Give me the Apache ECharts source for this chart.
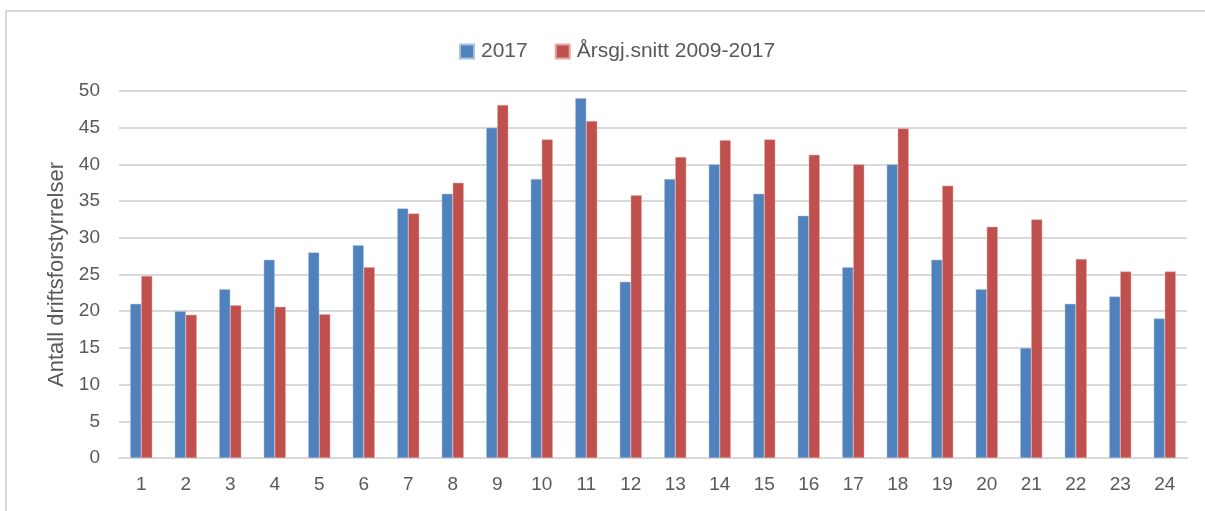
<!DOCTYPE html>
<html>
<head>
<meta charset="utf-8">
<script src="https://cdn.jsdelivr.net/npm/echarts@6/dist/echarts.min.js"></script>
<style>
  html, body { margin: 0; padding: 0; background: #fff; }
  #frame { position: absolute; left: 5px; top: 10px; width: 1200px; height: 520px;
           border-top: 2px solid #d9d9d9; border-left: 2px solid #d9d9d9; box-sizing: border-box; }
  #chart { position: absolute; left: 0; top: 0; width: 1205px; height: 511px; }
</style>
</head>
<body>
<div id="frame"></div>
<div id="chart"></div>
<script>
  // kategorier (1-24) og verdier lest av figuren
  var categories = ['1','2','3','4','5','6','7','8','9','10','11','12','13','14','15','16','17','18','19','20','21','22','23','24'];
  var values2017 = [21, 20, 23, 27, 28, 29, 34, 36, 45, 38, 49, 24, 38, 40, 36, 33, 26, 40, 27, 23, 15, 21, 22, 19];
  var snitt = [24.8, 19.5, 20.8, 20.6, 19.6, 26.0, 33.3, 37.5, 48.1, 43.4, 45.9, 35.8, 41.0, 43.3, 43.4, 41.3, 40.0, 44.9, 37.1, 31.5, 32.5, 27.1, 25.4, 25.4];
  var seriesNames = ['2017', 'Årsgj.snitt 2009-2017'];

  var chart = echarts.init(document.getElementById('chart'));
  var font = '"Liberation Sans", Arial, sans-serif';

  chart.setOption({
    animation: false,
    textStyle: { fontFamily: font },
    color: ['#4f81bd', '#c0504d'],
    legend: {
      top: 36,
      left: 454,
      itemWidth: 14,
      itemHeight: 14,
      itemGap: 27,
      icon: 'rect',
      data: seriesNames,
      textStyle: { fontSize: 21, color: '#595959', fontFamily: font, padding: [0, 0, 0, 2] }
    },
    grid: { left: 119, right: 18, top: 91, bottom: 53 },
    xAxis: {
      type: 'category',
      data: categories,
      axisLine: { lineStyle: { color: '#d9d9d9', width: 2 } },
      axisTick: { show: false },
      axisLabel: { fontSize: 19, color: '#595959', margin: 17 }
    },
    yAxis: {
      type: 'value',
      min: 0,
      max: 50,
      interval: 5,
      name: 'Antall driftsforstyrrelser',
      nameLocation: 'middle',
      nameGap: 51,
      nameTextStyle: { fontSize: 22, color: '#595959' },
      axisLine: { show: false },
      axisTick: { show: false },
      axisLabel: { fontSize: 19, color: '#595959', margin: 19 },
      splitLine: { lineStyle: { color: '#d9d9d9', width: 2 } }
    },
    series: [
      {
        name: seriesNames[0],
        type: 'bar',
        data: values2017,
        barWidth: 11,
        barGap: '0%',
        itemStyle: { borderColor: '#a9c0df', borderWidth: 0.5 }
      },
      {
        name: seriesNames[1],
        type: 'bar',
        data: snitt,
        barWidth: 11,
        barGap: '0%',
        itemStyle: { borderColor: '#e3a9a7', borderWidth: 0.5 }
      }
    ]
  });
</script>
</body>
</html>
